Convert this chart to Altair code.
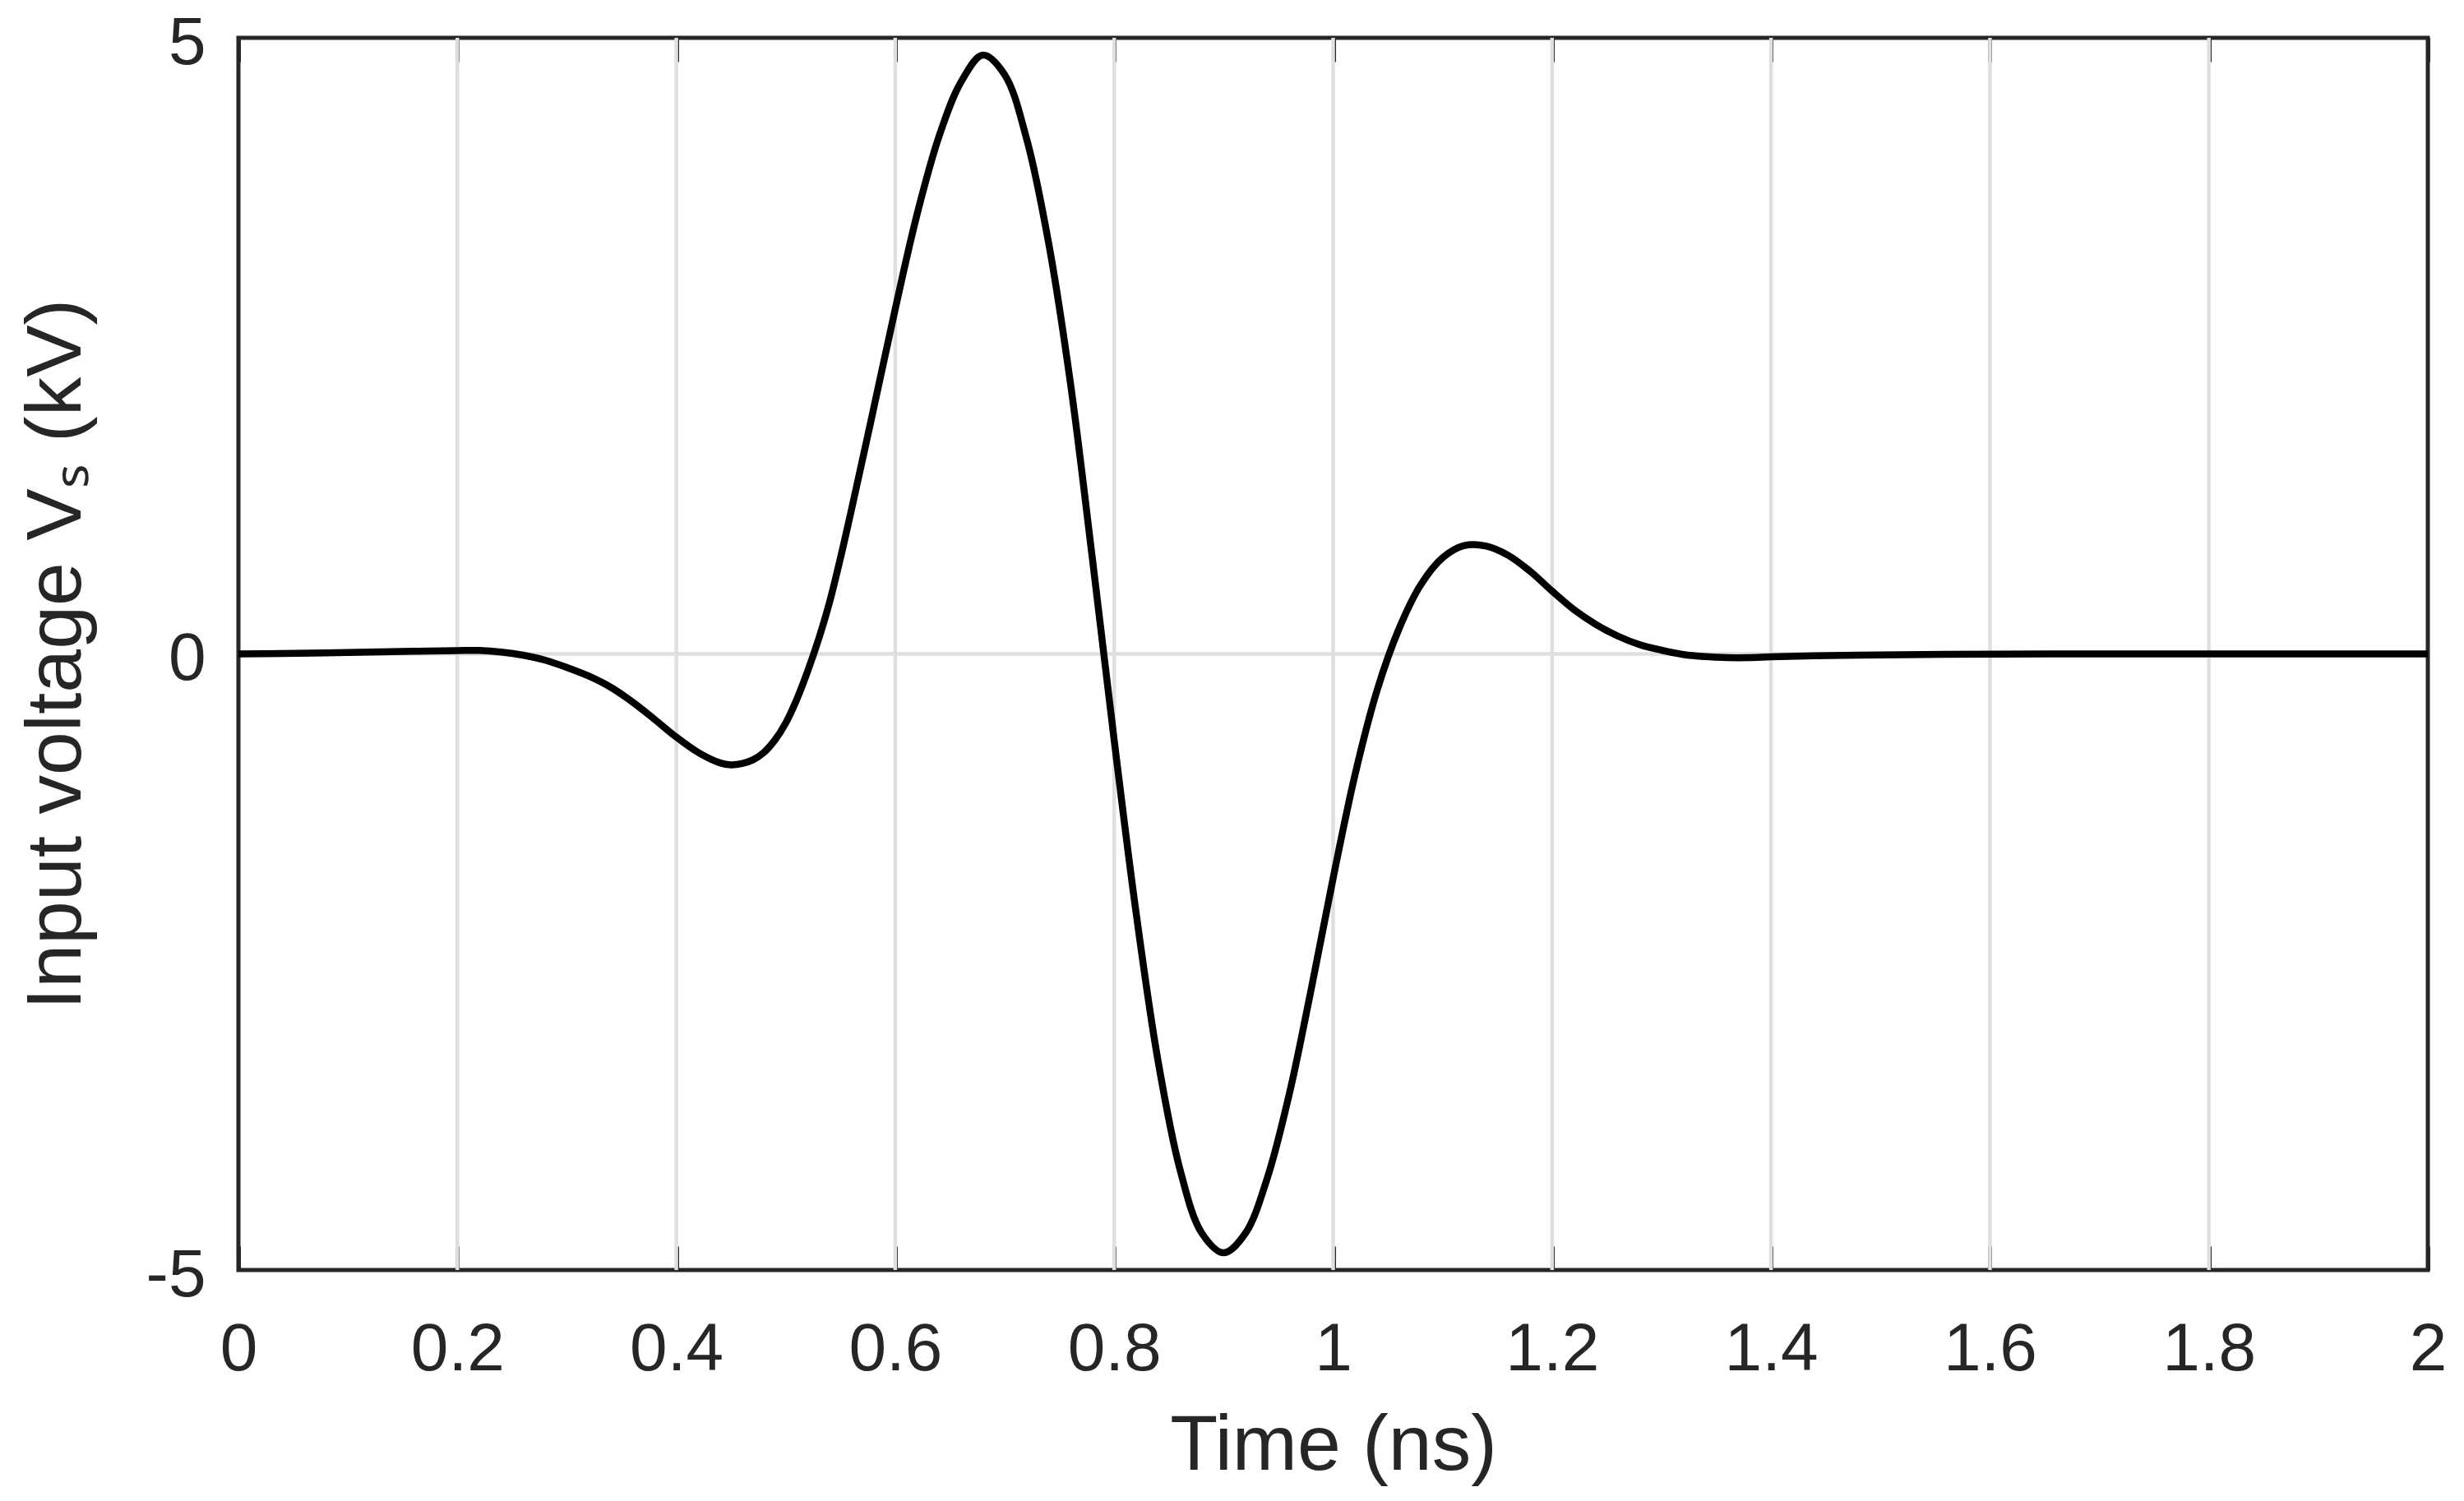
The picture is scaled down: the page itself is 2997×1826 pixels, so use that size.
import altair as alt
import pandas as pd

# ---- data ----
t_ns = [0.00, 0.04, 0.08, 0.12, 0.16, 0.20, 0.22, 0.24, 0.26, 0.28,
        0.30, 0.32, 0.34, 0.36, 0.38, 0.40, 0.42, 0.44, 0.45, 0.46,
        0.47, 0.48, 0.49, 0.50, 0.51, 0.52, 0.53, 0.54, 0.55,
        0.56, 0.58, 0.60, 0.62, 0.64, 0.66, 0.68,
        0.70, 0.72, 0.74, 0.76, 0.78,
        0.80, 0.82, 0.84, 0.86, 0.88,
        0.90, 0.92, 0.94, 0.96, 0.98,
        1.00, 1.02, 1.04, 1.06, 1.08,
        1.10, 1.12, 1.14, 1.16, 1.18,
        1.20, 1.22, 1.24, 1.26, 1.28,
        1.30, 1.32, 1.34, 1.36, 1.38,
        1.40, 1.44, 1.50, 1.56, 1.70, 1.85, 2.00]
v_kv = [0.000, 0.004, 0.009, 0.015, 0.021, 0.027, 0.028, 0.015, -0.010, -0.050,
        -0.110, -0.180, -0.270, -0.390, -0.530, -0.675, -0.800, -0.885, -0.900, -0.890,
        -0.860, -0.800, -0.700, -0.560, -0.370, -0.140, 0.120, 0.420, 0.780,
        1.170, 1.980, 2.800, 3.570, 4.200, 4.640, 4.860,
        4.700, 4.180, 3.340, 2.200, 0.780,
        -0.700, -2.100, -3.300, -4.180, -4.700,
        -4.860, -4.700, -4.250, -3.570, -2.720,
        -1.820, -0.980, -0.300, 0.200, 0.560,
        0.780, 0.880, 0.875, 0.800, 0.670,
        0.510, 0.360, 0.240, 0.145, 0.075,
        0.030, -0.005, -0.022, -0.030, -0.030,
        -0.024, -0.015, -0.008, -0.003, 0.000, 0.000, 0.000]

x_ticks = [0, 0.2, 0.4, 0.6, 0.8, 1, 1.2, 1.4, 1.6, 1.8, 2]
x_grid = [0.2, 0.4, 0.6, 0.8, 1, 1.2, 1.4, 1.6, 1.8]
y_ticks = [-5, 0, 5]
y_grid = [0]

x_title = "Time (ns)"
y_title = "Input voltage V\u209b (kV)"

df = pd.DataFrame({"t": t_ns, "v": v_kv})
gx = pd.DataFrame({"g": x_grid})
gy = pd.DataFrame({"z": y_grid})

FONT = "Liberation Sans"
INK = "#262626"
GRID = "#dfdfdf"

xscale = alt.Scale(domain=[0, 2], nice=False, zero=False)
yscale = alt.Scale(domain=[-5, 5], nice=False, zero=False)

vgrid = alt.Chart(gx).mark_rule(color=GRID, strokeWidth=4.5).encode(
    x=alt.X("g:Q", scale=xscale,
            axis=alt.Axis(orient="top", values=x_ticks, offset=-29, tickSize=29,
                          tickWidth=5, tickColor=INK, ticks=True, labels=False,
                          domain=False, grid=False, title=None))
)

hgrid = alt.Chart(gy).mark_rule(color=GRID, strokeWidth=4.5).encode(
    y=alt.Y("z:Q", scale=yscale, axis=None)
)

line = alt.Chart(df).mark_line(color="black", strokeWidth=8.5,
                               interpolate="catmull-rom").encode(
    x=alt.X("t:Q", scale=xscale,
            axis=alt.Axis(orient="bottom", values=x_ticks, offset=-29, tickSize=29,
                          tickWidth=5, tickColor=INK, ticks=True, domain=False,
                          grid=False, format="~g", labelPadding=56, labelFontSize=82,
                          labelFont=FONT, labelColor=INK, labelFlush=False,
                          labelOverlap=False,
                          title=x_title, titleFont=FONT, titleFontSize=95,
                          titleFontWeight="normal", titleColor=INK, titlePadding=30)),
    y=alt.Y("v:Q", scale=yscale,
            axis=alt.Axis(orient="left", values=y_ticks, ticks=False, domain=False,
                          grid=False, labelPadding=40, labelOffset=6, labelFontSize=82,
                          labelFont=FONT, labelColor=INK, labelFlush=False,
                          labelOverlap=False, labelExpr="'' + datum.value",
                          title=y_title, titleFont=FONT, titleFontSize=95,
                          titleFontWeight="normal", titleColor=INK, titlePadding=60)),
)

chart = alt.layer(vgrid, hgrid, line).resolve_axis(
    x="independent", y="independent"
).properties(
    width=2663,
    height=1499,
    padding={"left": 282, "top": 38, "right": 36, "bottom": 273},
    autosize=alt.AutoSizeParams(type="none"),
    background="white",
).configure_view(
    stroke=INK, strokeWidth=5
)

chart.save("out.html", embed_options={"renderer": "svg", "actions": False})
